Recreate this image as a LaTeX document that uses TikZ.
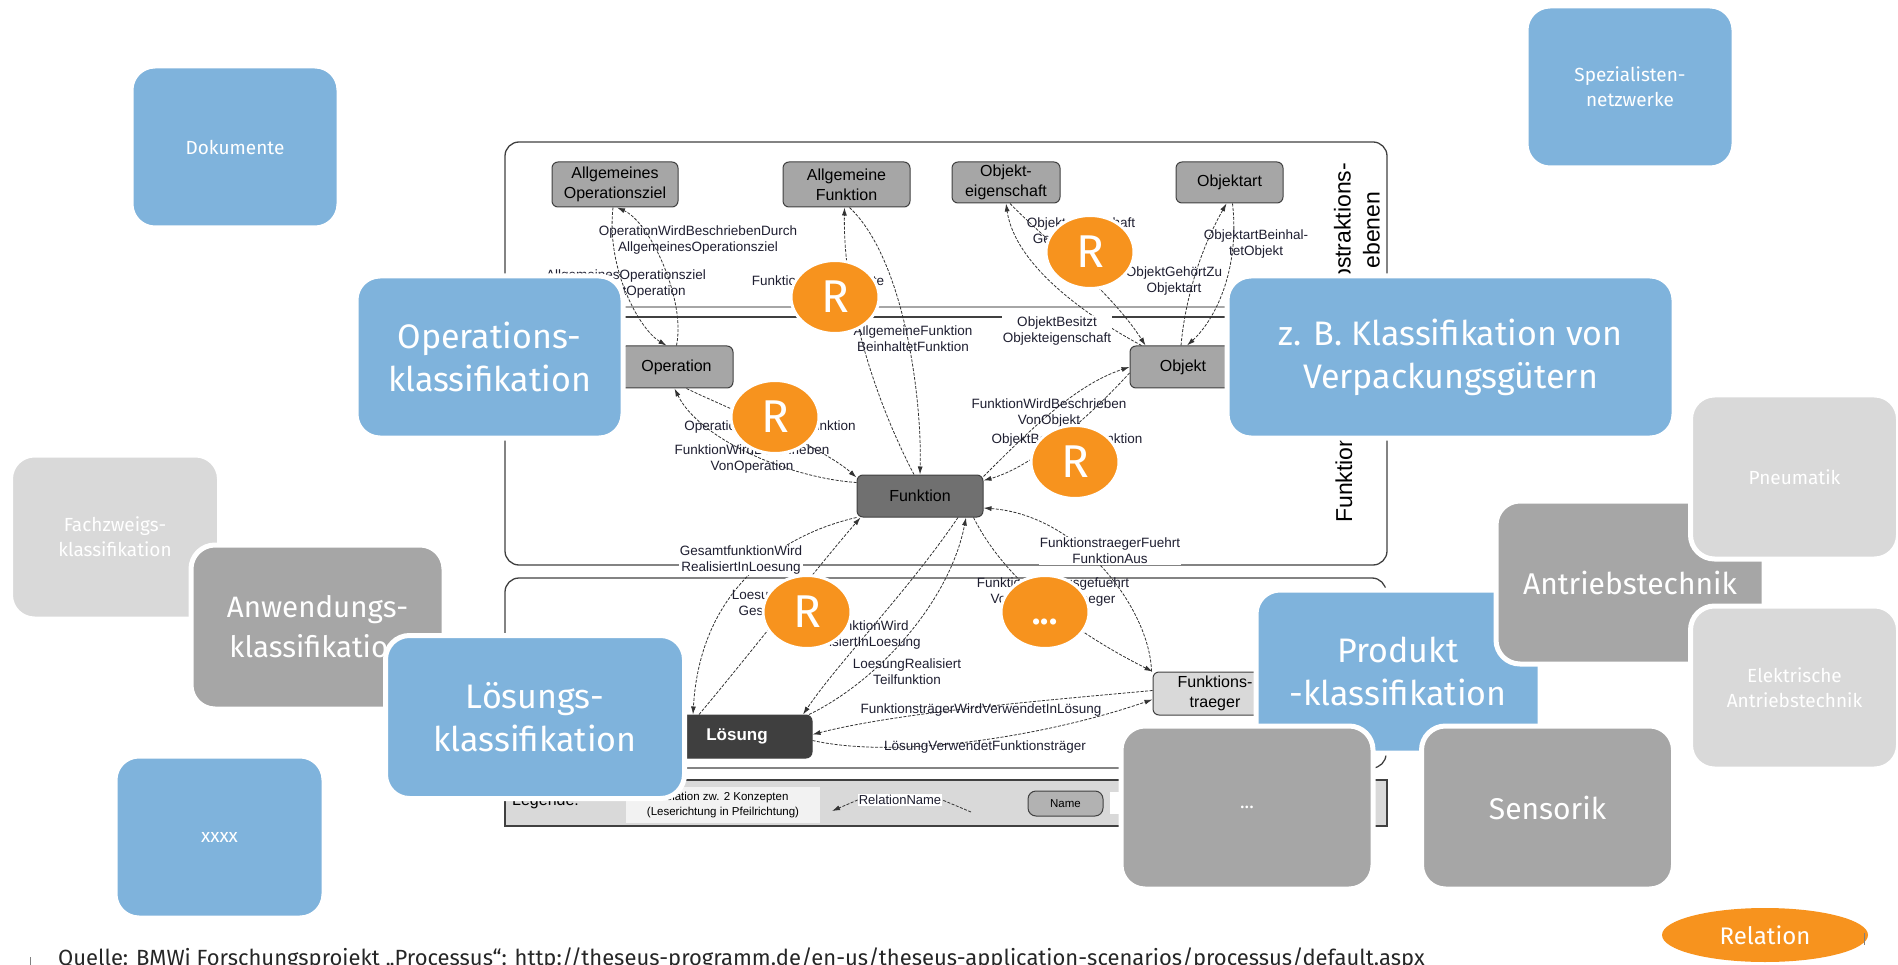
\documentclass[tikz,border=0pt]{standalone}
\usepackage{fontspec}
\setmainfont{Fira Sans}
\newfontfamily\arialf{Liberation Sans}
\usetikzlibrary{shapes.geometric,arrows.meta}
\definecolor{cblue}{HTML}{7FB3DC}
\definecolor{cgray}{HTML}{A6A6A6}
\definecolor{clight}{HTML}{D9D9D9}
\definecolor{corange}{HTML}{F7931E}
\definecolor{cfunk}{HTML}{707070}
\definecolor{closung}{HTML}{3F3F3F}
\definecolor{cline}{HTML}{333333}
\definecolor{clbl}{HTML}{1E1E30}
\definecolor{cframe}{HTML}{404040}
\definecolor{clegbox}{HTML}{F2F2F2}
\definecolor{csrc}{HTML}{262626}
\begin{document}
\begin{tikzpicture}[x=1pt,y=-1pt,
  bx/.style={rectangle, rounded corners=24pt, draw=white, line width=5pt, align=center, text=white, inner sep=0pt},
  blu/.style={bx, fill=cblue},
  gry/.style={bx, fill=cgray},
  lgr/.style={bx, fill=clight},
  bigt/.style={font=\fontsize{34}{43}\selectfont},
  anwt/.style={font=\fontsize{29.5}{40}\selectfont},
  midt/.style={font=\fontsize{30}{36}\selectfont},
  smlt/.style={font=\fontsize{19}{25}\selectfont},
  en/.style={rectangle, rounded corners=6pt, draw=cframe, line width=1pt, align=center, inner sep=0pt, font=\arialf\fontsize{16}{20}\selectfont},
  lbl/.style={font=\arialf\fontsize{13.5}{16}\selectfont, align=center, text=clbl, inner sep=1pt},
  rel/.style={draw=cline, line width=0.8pt, dash pattern=on 3pt off 1.5pt, -{Latex[length=8pt,width=5pt]}},
  orn/.style={ellipse, fill=corange, draw=white, line width=3pt, text=white, inner sep=0pt, minimum width=88pt, minimum height=73pt, font=\fontsize{46}{46}\selectfont},
  vt/.style={font=\arialf\fontsize{23}{29}\selectfont, rotate=90, align=center, text=black}
]
\useasboundingbox (0,0) rectangle (1898,965);

% ---------- embedded ontology figure ----------
\draw[cframe, line width=1.3pt, rounded corners=14pt] (505,142) rectangle (1387,565);
\draw[cframe, line width=1.3pt, rounded corners=14pt] (505,578) rectangle (1386,768);
\draw[black!35, line width=2pt] (505,307) -- (1387,307);
\draw[cframe, line width=1.2pt] (505,317) -- (1387,317);

% legend
\node[draw=cframe, fill=clight, line width=1.3pt, minimum width=882pt, minimum height=46pt, inner sep=0pt] (leg) at (946,803) {};
\node[anchor=west, font=\arialf\fontsize{16}{18}\selectfont, inner sep=0pt] (legt) at (512,801) {Legende:};
\node[fill=clegbox, minimum width=194pt, minimum height=36pt, inner sep=0pt, align=center, font=\arialf\fontsize{11.5}{15}\selectfont] (legr) at (723,805) {Relation zw. 2 Konzepten\\(Leserichtung in Pfeilrichtung)};
\node[lbl, fill=white, font=\arialf\fontsize{13}{15}\selectfont] (rn) at (900,800) {RelationName};
\coordinate (rnt) at (832,811);
\coordinate (rns) at (971,812);
\draw[rel] (rn.west) -- (rnt);
\draw[rel, -] (rns) -- (rn.east);
\node[en, fill=black!30, minimum width=75pt, minimum height=25pt, rounded corners=8pt, font=\arialf\fontsize{11.5}{13}\selectfont] (nm) at (1065.5,803.5) {Name};
\node[fill=white, minimum width=40pt, minimum height=22pt, inner sep=0pt] (legw) at (1130,803) {};

% concept nodes
\node[en, fill=cgray, minimum width=126pt, minimum height=45pt] (aoz) at (615,184.5) {Allgemeines\\Operationsziel};
\node[en, fill=cgray, minimum width=127pt, minimum height=45pt] (af) at (846.5,184.5) {Allgemeine\\Funktion};
\node[en, fill=cgray, minimum width=108pt, minimum height=41pt] (oe) at (1006,182.5) {Objekt-\\eigenschaft};
\node[en, fill=cgray, minimum width=107pt, minimum height=41pt] (oa) at (1229.5,182.5) {Objektart};
\node[en, fill=cgray, minimum width=113pt, minimum height=42pt] (op) at (676.5,367) {Operation};
\node[en, fill=cgray, minimum width=106pt, minimum height=42pt] (obj) at (1183,367) {Objekt};
\node[en, fill=cfunk, minimum width=126pt, minimum height=42pt] (fk) at (920,496) {Funktion};
\node[en, fill=closung, text=white, minimum width=150pt, minimum height=43pt, font=\arialf\bfseries\fontsize{17}{20}\selectfont] (ls) at (737,736.5) {Lösung};
\node[en, fill=clight, minimum width=124pt, minimum height=43pt] (ft) at (1215,693.5) {Funktions-\\traeger};

% relations
\draw[rel] (op.north) .. controls (686,300) and (650,222) .. ([xshift=2pt]aoz.south);
\draw[rel] ([xshift=-2pt]aoz.south) .. controls (606,270) and (640,330) .. ([xshift=-10pt]op.north);
\draw[rel] ([xshift=-6pt]fk.north) .. controls (875,400) and (843,300) .. ([xshift=-2pt]af.south);
\draw[rel] ([xshift=3pt]af.south) .. controls (905,260) and (922,400) .. (fk.north);
\draw[rel] ([xshift=12pt]obj.north west) .. controls (1085,315) and (1015,265) .. (oe.south);
\draw[rel] ([xshift=4pt]oe.south) .. controls (1040,235) and (1110,290) .. ([xshift=16pt]obj.north west);
\draw[rel] ([xshift=-2pt]obj.north) .. controls (1185,300) and (1200,250) .. ([xshift=-3pt]oa.south);
\draw[rel] ([xshift=3pt]oa.south) .. controls (1240,270) and (1215,320) .. ([xshift=4pt]obj.north);
\draw[rel] ([xshift=10pt]op.south) .. controls (720,405) and (820,445) .. ([yshift=-3pt]fk.north west);
\draw[rel] ([yshift=-8pt]fk.north west) .. controls (790,478) and (700,440) .. ([xshift=-2pt]op.south);
\draw[rel] ([yshift=-2pt]fk.north east) .. controls (1030,430) and (1075,385) .. (obj.west);
\draw[rel] ([yshift=-6pt]obj.west) .. controls (1105,400) and (1040,465) .. ([yshift=-6pt]fk.north east);
\draw[rel] ([xshift=-1pt]ft.north west) .. controls (1150,610) and (1080,515) .. ([yshift=-12pt]fk.east);
\draw[rel] ([xshift=-10pt]fk.south east) .. controls (1010,590) and (1090,640) .. (ft.north west);
\draw[rel] (fk.south west) .. controls (780,535) and (700,590) .. ([xshift=-44pt]ls.north);
\draw[rel] ([xshift=-38pt]ls.north) .. controls (745,660) and (815,570) .. ([xshift=4pt]fk.south west);
\draw[rel] ([xshift=38pt]fk.south) .. controls (905,595) and (840,660) .. ([xshift=66pt]ls.north);
\draw[rel] ([xshift=72pt]ls.north) .. controls (880,680) and (950,600) .. ([xshift=46pt]fk.south);
\draw[rel] ([yshift=3pt]ft.west) .. controls (1050,700) and (900,712) .. ([yshift=2pt]ls.east);
\draw[rel] ([yshift=-4pt]ls.east) .. controls (900,760) and (1050,735) .. ([yshift=-6pt]ft.west);

% relation labels
\node[lbl] (la) at (698,240) {OperationWirdBeschriebenDurch\\AllgemeinesOperationsziel};
\node[lbl] (lb) at (626,284) {AllgemeinesOperationsziel\\BeinhaltetOperation};
\node[lbl] (lc) at (818,282) {FunktionSpezialisierte};
\node[lbl] (ld) at (913,339) {AllgemeineFunktion\\BeinhaltetFunktion};
\node[lbl, fill=white] (le1) at (1057,331) {ObjektBesitzt\\Objekteigenschaft};
\node[lbl] (le2) at (1081,232) {Objekteigenschaft\\GehörtZuObjekt};
\node[lbl] (lf1) at (1174,281) {ObjektGehörtZu\\Objektart};
\node[lbl] (lf2) at (1256,244) {ObjektartBeinhal-\\tetObjekt};
\node[lbl] (lg1) at (770,427) {OperationBeinhaltetFunktion};
\node[lbl] (lg2) at (752,459) {FunktionWirdBeschrieben\\VonOperation};
\node[lbl] (lh1) at (1049,413) {FunktionWirdBeschrieben\\VonObjekt};
\node[lbl] (lh2) at (1067,440) {ObjektBeinhaltetFunktion};
\node[lbl, fill=white] (li1) at (1110,551) {FunktionstraegerFuehrt\\FunktionAus};
\node[lbl] (li2) at (1053,592) {FunktionWirdAusgefuehrt\\VonFunktionstraeger};
\node[lbl, fill=white] (lj1) at (741,560) {GesamtfunktionWird\\RealisiertInLoesung};
\node[lbl] (lj2) at (786,603) {LoesungRealisiert\\Gesamtfunktion};
\node[lbl] (lj3) at (861,635) {TeilfunktionWird\\RealisiertInLoesung};
\node[lbl] (lj4) at (907,672) {LoesungRealisiert\\Teilfunktion};
\node[lbl] (lk1) at (981,710) {FunktionsträgerWirdVerwendetInLösung};
\node[lbl] (lk2) at (985,747) {LösungVerwendetFunktionsträger};

% level titles
\node[vt] (abs) at (1357,230) {Abstraktions-\\ebenen};
\node[vt] (fkeb) at (1344,441) {Funktionsebene};

% ---------- orange relation markers ----------
\node[orn] (r1) at (835,297) {R};
\node[orn] (r2) at (775,417) {R};
\node[orn] (r3) at (1090,252) {R};
\node[orn] (r4) at (1075,462) {R};
\node[orn] (r5) at (807,612) {R};
\node[orn] (rdots) at (1045,612) {};
\node[text=white, font=\bfseries\fontsize{34}{34}\selectfont, inner sep=0pt] (rdotst) at (1045,622) {...};

% ---------- classification boxes ----------
\node[blu, smlt, minimum width=208pt, minimum height=162pt] (dok) at (235,147) {Dokumente};
\node[blu, smlt, minimum width=208pt, minimum height=162pt] (spz) at (1630,87) {Spezialisten-\\netzwerke};
\node[blu, smlt, minimum width=209pt, minimum height=162pt] (xx) at (219.5,837) {xxxx};

\node[lgr, smlt, minimum width=209pt, minimum height=164pt] (fach) at (115,537) {Fachzweigs-\\klassifikation};
\node[gry, anwt, minimum width=253pt, minimum height=164pt] (anw) at (317.5,627) {Anwendungs-\\klassifikation};
\node[blu, bigt, minimum width=299pt, minimum height=163pt] (loes) at (535,717) {Lösungs-\\klassifikation};

\node[blu, bigt, minimum width=267pt, minimum height=162pt] (opk) at (489.5,357) {Operations-\\klassifikation};
\node[blu, bigt, minimum width=447pt, minimum height=162pt] (zb) at (1450.5,357) {z. B. Klassifikation von\\Verpackungsgütern};

\node[blu, bigt, minimum width=284pt, minimum height=163pt] (prod) at (1398,671.5) {Produkt\\-klassifikation};
\node[gry, midt, minimum width=268pt, minimum height=163pt] (antr) at (1630,582.5) {Antriebstechnik};
\node[lgr, smlt, minimum width=208pt, minimum height=164pt] (pneu) at (1794.5,477) {Pneumatik};
\node[lgr, smlt, minimum width=208pt, minimum height=163pt] (elek) at (1794.5,687.5) {Elektrische\\Antriebstechnik};
\node[gry, smlt, minimum width=252pt, minimum height=163pt] (etc) at (1247,807.5) {...};
\node[gry, midt, minimum width=252pt, minimum height=163pt] (sens) at (1547.5,807.5) {Sensorik};

% ---------- legend marker and source ----------
\node[ellipse, fill=corange, text=white, minimum width=206pt, minimum height=54pt, inner sep=0pt, font=\fontsize{24}{24}\selectfont] (relk) at (1765,935) {Relation};
\node[anchor=base west, inner sep=0pt, text=csrc, font=\fontsize{22}{26}\selectfont] (src) at (58,965) {Quelle: BMWi Forschungsprojekt „Processus“: http://theseus-programm.de/en-us/theseus-application-scenarios/processus/default.aspx};
\draw[black!50, line width=1pt] (30,957) -- (30,965);
\draw[black!50, line width=1pt] (1864,933) -- (1864,945);
\end{tikzpicture}
\end{document}
